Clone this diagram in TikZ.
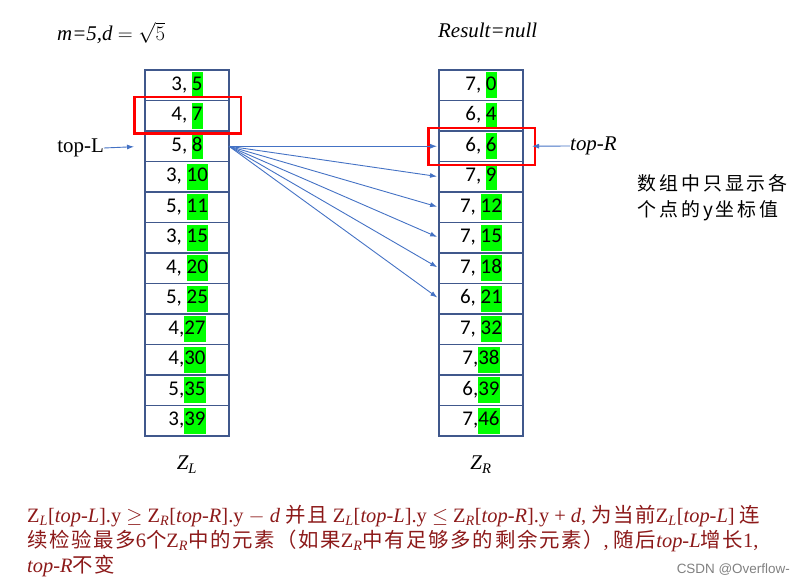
\documentclass[tikz,border=0pt]{standalone}
\usepackage{fontspec}
\setmainfont{Liberation Serif}
\newfontfamily\cellfont{Carlito}
\newfontfamily\cjk[LetterSpace=8]{Noto Sans CJK SC}
\newfontfamily\cjknote[LetterSpace=16]{Noto Sans CJK SC}
\newfontfamily\markfont{Liberation Sans}
\usetikzlibrary{positioning,arrows.meta}

\definecolor{hlgreen}{RGB}{0,255,0}
\definecolor{cellblue}{RGB}{64,88,140}
\definecolor{arrowblue}{RGB}{68,114,196}
\definecolor{noteRed}{RGB}{140,25,25}

\newcommand{\hl}[1]{{\setlength{\fboxsep}{0pt}\colorbox{hlgreen}{\strut #1}}}
\newcommand{\zL}{Z\textsubscript{\textit{L}}}
\newcommand{\zR}{Z\textsubscript{\textit{R}}}

\begin{document}
\begin{tikzpicture}[x=1bp, y=-1bp,
    cell/.style={draw=cellblue, line width=1.2bp, minimum width=84bp, minimum height=30.5bp,
      inner sep=0pt, outer sep=0pt, font=\cellfont\fontsize{21}{26}\selectfont},
    redBox/.style={draw=red, line width=2.2bp},
    arrow/.style={-{Latex[length=7bp, width=5bp]}, draw=arrowblue, line width=0.9bp},
    plainText/.style={inner sep=0pt, font=\fontsize{21}{25}\selectfont},
    noteText/.style={inner sep=0pt, anchor=west, text=noteRed, font=\fontsize{20.5}{25}\selectfont}]

  \useasboundingbox (0,0) rectangle (802,586);

  % Left array
  \node[cell] (L1) at (187,85.25) {3, \hl{5}};
  \node[cell, below=0pt of L1] (L2) {4, \hl{7}};
  \node[cell, below=0pt of L2] (L3) {5, \hl{8}};
  \node[cell, below=0pt of L3] (L4) {3, \hl{10}};
  \node[cell, below=0pt of L4] (L5) {5, \hl{11}};
  \node[cell, below=0pt of L5] (L6) {3, \hl{15}};
  \node[cell, below=0pt of L6] (L7) {4, \hl{20}};
  \node[cell, below=0pt of L7] (L8) {5, \hl{25}};
  \node[cell, below=0pt of L8] (L9) {4,\hl{27}};
  \node[cell, below=0pt of L9] (L10) {4,\hl{30}};
  \node[cell, below=0pt of L10] (L11) {5,\hl{35}};
  \node[cell, below=0pt of L11] (L12) {3,\hl{39}};

  % Right array
  \node[cell, right=210bp of L1] (R1) {7, \hl{0}};
  \node[cell, below=0pt of R1] (R2) {6, \hl{4}};
  \node[cell, below=0pt of R2] (R3) {6, \hl{6}};
  \node[cell, below=0pt of R3] (R4) {7, \hl{9}};
  \node[cell, below=0pt of R4] (R5) {7, \hl{12}};
  \node[cell, below=0pt of R5] (R6) {7, \hl{15}};
  \node[cell, below=0pt of R6] (R7) {7, \hl{18}};
  \node[cell, below=0pt of R7] (R8) {6, \hl{21}};
  \node[cell, below=0pt of R8] (R9) {7, \hl{32}};
  \node[cell, below=0pt of R9] (R10) {7,\hl{38}};
  \node[cell, below=0pt of R10] (R11) {6,\hl{39}};
  \node[cell, below=0pt of R11] (R12) {7,\hl{46}};

  % Red frames
  \draw[redBox] ([xshift=-10.5bp, yshift=3.5bp]L2.north west) rectangle ([xshift=12bp, yshift=-2.5bp]L2.south east);
  \draw[redBox] ([xshift=-10.5bp, yshift=3bp]R3.north west) rectangle ([xshift=12bp, yshift=-3.5bp]R3.south east);

  % Labels
  \node[plainText, anchor=west] (params) at (57,33) {\textit{m=5,d} $=\sqrt{5}$};
  \node[plainText, anchor=west] (result) at (438,30) {\textit{Result=null}};
  \node[plainText, anchor=east] (topL) at (104,148) {top-L};
  \node[plainText, anchor=west] (topR) at (570,146) {\textit{top-R}};
  \node[plainText, below=20bp of L12] (nameL) {\textit{Z\textsubscript{L}}};
  \node[plainText, below=20bp of R12] (nameR) {\textit{Z\textsubscript{R}}};

  % Pointers
  \draw[arrow, shorten >=11bp] (topL.east) -- (L3.west);
  \draw[arrow, shorten >=9bp] (topR.west) -- (R3.east);

  % Arrows
  \draw[arrow, shorten >=2bp] (L3.east) -- (R3.west);
  \draw[arrow, shorten >=2bp] (L3.east) -- (R4.west);
  \draw[arrow, shorten >=2bp] (L3.east) -- (R5.west);
  \draw[arrow, shorten >=2bp] (L3.east) -- (R6.west);
  \draw[arrow, shorten >=2bp] (L3.east) -- (R7.west);
  \draw[arrow, shorten >=2bp] (L3.east) -- (R8.west);

  % Side note
  \node[inner sep=0pt, anchor=west, align=left, font=\cjknote\fontsize{19}{26}\selectfont] (note) at (637,198)
    {数组中只显示各\\个点的y坐标值};

  % Condition text
  \node[noteText] (cond1) at (27,516) {\zL[\textit{top-L}].y $\geq$ \zR[\textit{top-R}].y $-$ \textit{d} {\cjk 并且} \zL[\textit{top-L}].y $\leq$ \zR[\textit{top-R}].y + \textit{d}, {\cjk 为当前}\zL[\textit{top-L}] {\cjk 连}};
  \node[noteText] (cond2) at (27,541) {{\cjk 续检验最多}6{\cjk 个}\zR{\cjk 中的元素（如果}\zR{\cjk 中有足够多的剩余元素）}, {\cjk 随后}\textit{top-L}{\cjk 增长}1,};
  \node[noteText] (cond3) at (27,566) {\textit{top-R}{\cjk 不变}};

  \node[inner sep=0pt, anchor=east, text=gray, font=\markfont\fontsize{13.5}{16}\selectfont] (mark) at (790,570) {CSDN @Overflow-};
\end{tikzpicture}
\end{document}
